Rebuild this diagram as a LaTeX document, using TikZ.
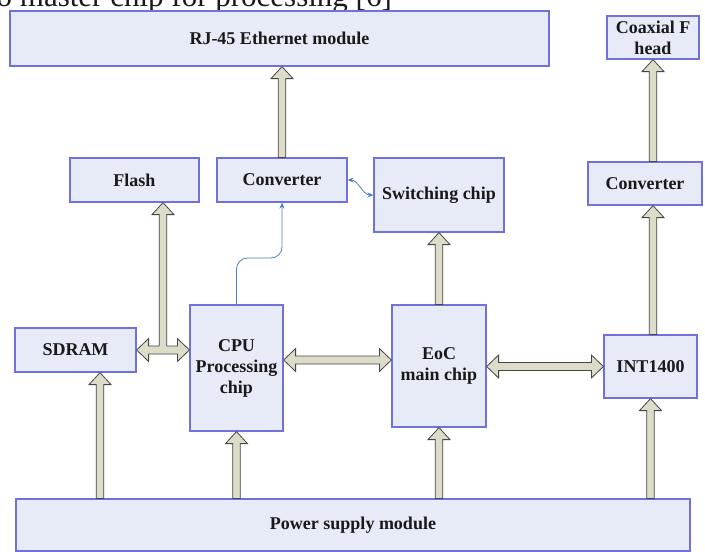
\documentclass[tikz,border=0pt]{standalone}
\usepackage{fontspec}
\setmainfont{Liberation Serif}[BoldFont={Liberation Serif Bold}]
\usetikzlibrary{calc,arrows.meta}
\definecolor{boxfill}{RGB}{230,235,247}
\definecolor{boxline}{RGB}{112,112,222}
\definecolor{fatfill}{RGB}{220,220,200}
\definecolor{fatline}{RGB}{70,70,70}
\definecolor{linkblue}{RGB}{79,129,189}
\newcommand\fatup[2]{%
  \draw[fat] let \p1=(#1),\p2=(#2) in
   (\x2-3.8pt,\y1) -- (\x2-3.8pt,\y2-12pt) -- (\x2-11pt,\y2-12pt) -- (\x2,\y2)
   -- (\x2+11pt,\y2-12pt) -- (\x2+3.8pt,\y2-12pt) -- (\x2+3.8pt,\y1) -- cycle;}
\newcommand\fatupopen[2]{%
  \fill[fatfill] let \p1=(#1),\p2=(#2) in
   (\x2-3.8pt,\y1) -- (\x2-3.8pt,\y2-12pt) -- (\x2-11pt,\y2-12pt) -- (\x2,\y2)
   -- (\x2+11pt,\y2-12pt) -- (\x2+3.8pt,\y2-12pt) -- (\x2+3.8pt,\y1) -- cycle;
  \draw[fatline,line width=0.8pt] let \p1=(#1),\p2=(#2) in
   (\x2-3.8pt,\y1+4pt) -- (\x2-3.8pt,\y2-12pt) -- (\x2-11pt,\y2-12pt) -- (\x2,\y2)
   -- (\x2+11pt,\y2-12pt) -- (\x2+3.8pt,\y2-12pt) -- (\x2+3.8pt,\y1+4pt);}
\newcommand\fatlr[2]{%
  \draw[fat] let \p1=(#1),\p2=(#2) in
   (\x1,\y1) -- (\x1+12pt,\y1+11.5pt) -- (\x1+12pt,\y1+4pt) -- (\x2-12pt,\y1+4pt)
   -- (\x2-12pt,\y1+11.5pt) -- (\x2,\y1) -- (\x2-12pt,\y1-11.5pt) -- (\x2-12pt,\y1-4pt)
   -- (\x1+12pt,\y1-4pt) -- (\x1+12pt,\y1-11.5pt) -- cycle;}
\begin{document}
\begin{tikzpicture}[x=1pt,y=-1pt,
  blk/.style={draw=boxline, fill=boxfill, line width=1.2pt, inner sep=0pt, align=center,
    font=\bfseries\fontsize{18}{21}\selectfont, text=black!90},
  fat/.style={draw=fatline, fill=fatfill, line width=0.8pt, line join=miter},
  link/.style={draw=linkblue, line width=0.8pt}]
\useasboundingbox (0,0) rectangle (705,552);
\clip (0,0) rectangle (705,552);
\fill[white] (0,0) rectangle (705,552);
% cut-off caption line at the top
\node[anchor=base east, inner sep=0pt, font=\fontsize{31}{31}\selectfont, text=black!90] (cap) at (392,6) {o master chip for processing [6]};
% boxes
\node[blk, minimum width=539pt, minimum height=55pt] (rj) at (279.5,38.5) {RJ-45 Ethernet module};
\node[blk, minimum width=92pt, minimum height=43pt] (coax) at (653,37.5) {Coaxial F\\head};
\node[blk, minimum width=129pt, minimum height=44pt] (flash) at (134.5,180) {Flash};
\node[blk, minimum width=130pt, minimum height=44pt] (conv1) at (282,180) {Converter};
\node[blk, minimum width=130pt, minimum height=74pt] (sw) at (439,195) {Switching chip};
\node[blk, minimum width=114pt, minimum height=43pt] (conv2) at (645,183.5) {Converter};
\node[blk, minimum width=121pt, minimum height=44pt] (sdram) at (75.5,350) {SDRAM};
\node[blk, minimum width=93pt, minimum height=126pt] (cpu) at (236.5,368) {CPU\\Processing\\chip};
\node[blk, minimum width=94pt, minimum height=122pt] (eoc) at (439,366) {EoC\\main chip};
\node[blk, minimum width=93pt, minimum height=63pt] (int) at (650.5,366.5) {INT1400};
\node[blk, minimum width=674pt, minimum height=52pt] (power) at (353,525) {Power supply module};
% helper coordinates
\coordinate (j) at ($(sdram.east)!0.5!(sdram.east -| cpu.west)$);
\coordinate (m) at (0,360);
\coordinate (p1) at (100,0);
\coordinate (h) at (0,258);
% fat arrows
\fatup{conv1.north}{conv1.north |- rj.south}
\fatlr{sdram.east}{sdram.east -| cpu.west}
\fatupopen{j}{j |- flash.south}
\fatlr{cpu.east |- m}{eoc.west |- m}
\fatlr{int.west -| eoc.east}{int.west}
\fatup{eoc.north}{sw.south}
\fatup{int.north -| coax.south}{conv2.south -| coax.south}
\fatup{conv2.north -| coax.south}{coax.south}
\fatup{power.north -| p1}{sdram.south -| p1}
\fatup{power.north -| cpu.south}{cpu.south}
\fatup{power.north -| eoc.south}{eoc.south}
\fatup{power.north -| int.south}{int.south}
% thin blue links
\draw[link, rounded corners=11pt, -{Stealth[length=6pt,width=5pt]}]
  (cpu.north) -- (cpu.north |- h) -- (conv1.south |- h) -- (conv1.south);
\draw[link, {Stealth[length=6pt,width=5pt]}-{Stealth[length=6pt,width=5pt]}]
  (conv1.east) to[out=0,in=180,looseness=0.9] (sw.west);
\end{tikzpicture}
\end{document}
